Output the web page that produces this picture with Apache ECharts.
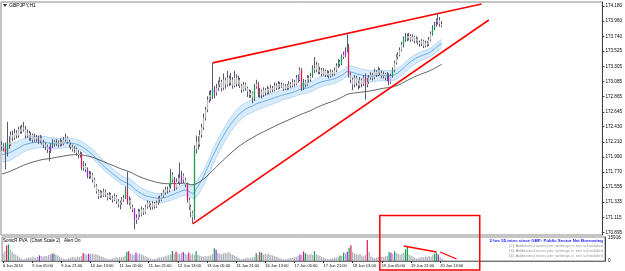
<!DOCTYPE html>
<html><head><meta charset="utf-8">
<script src="https://cdn.jsdelivr.net/npm/echarts@6/dist/echarts.min.js"></script>
<style>html,body{margin:0;padding:0;background:#fff}#c{width:625px;height:271px}</style>
</head><body><div id="c"></div><script>
// ---------------- data ----------------
const symbolTitle = 'GBPJPY,H1';
const indicatorTitle = 'SonicR PVA  (Chart Scale 2)   Alert On';
const newsLines = ['2 hrs 55 mins since GBP: Public Sector Net Borrowing',
  '(2) Additional news per settings is not scheduled',
  '(3) Additional news per settings is not scheduled',
  '(4) Additional news per settings is not scheduled'];
const timeLabels = ['6 Jun 2014','9 Jun 05:00','9 Jun 21:00','10 Jun 13:00','11 Jun 05:00','11 Jun 21:00',
  '12 Jun 13:00','13 Jun 05:00','13 Jun 21:00','16 Jun 13:00','17 Jun 05:00','17 Jun 21:00',
  '18 Jun 13:00','19 Jun 05:00','19 Jun 21:00','20 Jun 13:00'];
const barsPerLabel = 16;
const totalSlots = 331;
const priceTicks = [170.895,171.115,171.335,171.555,171.770,171.990,172.210,172.430,172.645,172.865,
  173.085,173.305,173.525,173.740,173.960,174.180];
const priceMin = 170.859, priceMax = 174.238;
const lastPrice = 173.895;
const volTicks = [0, 15916];
const volMax = 16700;

const opens = [
172.16,172.14,172.125,172.05,172.20,172.17,172.31,172.27,172.34,172.30,
172.39,172.36,172.42,172.39,172.30,172.34,172.27,172.31,172.24,172.28,
172.25,172.225,172.27,172.20,172.17,172.14,172.10,172.08,172.155,172.21,
172.18,172.20,172.17,172.21,172.18,172.24,172.27,172.21,172.17,172.14,
172.10,172.11,172.05,172.02,172.035,171.83,171.86,171.81,171.71,171.74,
171.735,171.66,171.575,171.49,171.42,171.475,171.43,171.49,171.445,171.40,
171.445,171.40,171.37,171.42,171.35,171.30,171.33,171.37,171.40,171.52,
171.33,171.37,171.27,171.23,171.08,171.11,171.20,171.155,171.23,171.185,
171.27,171.33,171.30,171.26,171.32,171.27,171.33,171.39,171.37,171.43,
171.475,171.52,171.505,171.56,171.735,171.66,171.545,171.635,171.69,171.62,
171.72,171.66,171.59,171.37,171.27,171.185,171.11,172.10,172.21,172.17,
172.31,172.42,172.56,172.675,172.82,172.89,172.86,172.97,172.92,172.99,
173.04,173.08,172.99,173.11,173.04,173.14,173.065,173.11,173.025,173.14,
173.05,173.11,173.025,172.965,173.04,172.99,172.94,172.89,172.92,172.85,
173.01,173.05,172.89,172.94,172.89,172.965,172.92,172.98,172.94,172.99,
172.965,173.025,172.99,173.05,173.01,173.04,172.98,173.025,172.99,173.05,
173.025,173.08,173.05,173.14,173.11,173.25,172.99,173.08,173.04,173.14,
173.11,173.165,173.28,173.25,173.33,173.225,173.25,173.195,173.24,173.18,
173.21,173.165,173.225,173.195,173.25,173.31,173.37,173.34,173.44,173.47,
173.54,173.60,173.18,173.11,173.04,173.14,173.065,173.025,173.11,173.05,
173.14,173.04,173.08,173.14,173.18,173.14,173.225,173.18,173.25,173.21,
173.165,173.195,173.14,173.18,173.08,173.165,173.25,173.355,173.44,173.47,
173.54,173.62,173.69,173.74,173.71,173.745,173.69,173.735,173.675,173.705,
173.66,173.63,173.675,173.60,173.645,173.62,173.69,173.775,173.86,173.905,
173.95,173.977,173.92];
const closes = [
172.14,172.125,172.05,172.20,172.17,172.31,172.27,172.34,172.30,172.39,
172.36,172.42,172.39,172.30,172.34,172.27,172.31,172.24,172.28,172.25,
172.225,172.27,172.20,172.17,172.14,172.10,172.08,172.155,172.21,172.18,
172.20,172.17,172.21,172.18,172.24,172.27,172.21,172.17,172.14,172.10,
172.11,172.05,172.02,172.035,171.83,171.86,171.81,171.71,171.74,171.735,
171.66,171.575,171.49,171.42,171.475,171.43,171.49,171.445,171.40,171.445,
171.40,171.37,171.42,171.35,171.30,171.33,171.37,171.40,171.52,171.33,
171.37,171.27,171.23,171.08,171.11,171.20,171.155,171.23,171.185,171.27,
171.33,171.30,171.26,171.32,171.27,171.33,171.39,171.37,171.43,171.475,
171.52,171.505,171.56,171.735,171.66,171.545,171.635,171.69,171.62,171.72,
171.66,171.59,171.37,171.27,171.185,171.11,172.10,172.21,172.17,172.31,
172.42,172.56,172.675,172.82,172.89,172.86,172.97,172.92,172.99,173.04,
173.08,172.99,173.11,173.04,173.14,173.065,173.11,173.025,173.14,173.05,
173.11,173.025,172.965,173.04,172.99,172.94,172.89,172.92,172.85,173.01,
173.05,172.89,172.94,172.89,172.965,172.92,172.98,172.94,172.99,172.965,
173.025,172.99,173.05,173.01,173.04,172.98,173.025,172.99,173.05,173.025,
173.08,173.05,173.14,173.11,173.25,172.99,173.08,173.04,173.14,173.11,
173.165,173.28,173.25,173.33,173.225,173.25,173.195,173.24,173.18,173.21,
173.165,173.225,173.195,173.25,173.31,173.37,173.34,173.44,173.47,173.54,
173.60,173.18,173.11,173.04,173.14,173.065,173.025,173.11,173.05,173.14,
173.04,173.08,173.14,173.18,173.14,173.225,173.18,173.25,173.21,173.165,
173.195,173.14,173.18,173.08,173.165,173.25,173.355,173.44,173.47,173.54,
173.62,173.69,173.74,173.71,173.745,173.69,173.735,173.675,173.705,173.66,
173.63,173.675,173.60,173.645,173.62,173.69,173.775,173.86,173.905,173.95,
173.977,173.92,173.895];
const highs = [
172.22,172.19,172.20,172.50,172.29,172.36,172.37,172.40,172.38,172.43,
172.44,172.46,172.50,172.44,172.39,172.37,172.35,172.33,172.33,172.31,
172.30,172.31,172.29,172.24,172.20,172.17,172.14,172.19,172.25,172.24,
172.25,172.23,172.26,172.24,172.28,172.33,172.29,172.24,172.20,172.17,
172.15,172.13,172.09,172.07,172.06,171.93,171.90,171.84,171.79,171.78,
171.76,171.69,171.60,171.52,171.51,171.50,171.53,171.52,171.47,171.48,
171.47,171.43,171.46,171.44,171.38,171.36,171.41,171.44,171.56,171.78,
171.42,171.39,171.30,171.25,171.16,171.24,171.23,171.27,171.25,171.30,
171.36,171.35,171.32,171.35,171.34,171.36,171.42,171.43,171.47,171.52,
171.56,171.56,171.60,171.82,171.77,171.70,171.68,171.74,171.91,171.79,
171.75,171.69,171.62,171.40,171.30,171.21,172.16,172.30,172.29,172.38,
172.47,172.62,172.72,172.87,172.95,172.96,173.355,173.02,173.05,173.10,
173.15,173.11,173.20,173.14,173.24,173.17,173.21,173.15,173.24,173.19,
173.17,173.14,173.05,173.08,173.07,173.01,172.97,172.96,172.94,173.05,
173.11,173.08,172.99,172.97,173.00,172.99,173.02,173.00,173.04,173.02,
173.07,173.06,173.09,173.08,173.07,173.06,173.05,173.05,173.09,173.08,
173.12,173.11,173.18,173.19,173.29,173.28,173.12,173.11,173.18,173.17,
173.21,173.32,173.44,173.37,173.35,173.30,173.28,173.28,173.26,173.25,
173.24,173.26,173.25,173.29,173.35,173.41,173.40,173.48,173.52,173.58,
173.79,173.63,173.22,173.14,173.18,173.17,173.10,173.15,173.13,173.18,
173.20,173.14,173.18,173.22,173.21,173.27,173.25,173.30,173.28,173.24,
173.23,173.21,173.22,173.20,173.20,173.29,173.39,173.48,173.51,173.58,
173.66,173.74,173.79,173.78,173.79,173.77,173.77,173.75,173.74,173.72,
173.68,173.70,173.69,173.68,173.67,173.73,173.81,173.90,173.95,174.00,
174.08,174.02,173.96];
const lows = [
172.08,172.07,171.81,172.00,172.11,172.15,172.22,172.24,172.26,172.27,
172.33,172.33,172.36,172.26,172.27,172.23,172.22,172.20,172.21,172.21,
172.18,172.19,172.17,172.12,172.09,172.05,171.93,172.05,172.12,172.14,
172.15,172.13,172.14,172.15,172.16,172.21,172.18,172.13,172.10,172.07,
172.05,172.01,171.97,171.98,171.80,171.79,171.77,171.68,171.67,171.68,
171.62,171.55,171.46,171.38,171.40,171.40,171.41,171.41,171.36,171.38,
171.37,171.33,171.35,171.31,171.26,171.23,171.30,171.34,171.38,171.30,
171.29,171.24,171.19,170.94,171.02,171.08,171.12,171.13,171.15,171.16,
171.24,171.26,171.22,171.23,171.24,171.25,171.30,171.33,171.35,171.40,
171.44,171.46,171.48,171.53,171.62,171.50,171.52,171.60,171.58,171.60,
171.61,171.55,171.33,171.22,171.12,171.03,171.08,172.04,172.10,172.14,
172.27,172.38,172.52,172.64,172.78,172.80,172.83,172.84,172.88,172.95,
173.00,172.94,172.96,172.98,173.01,173.02,173.03,172.98,173.00,173.01,
173.02,172.99,172.92,172.94,172.95,172.86,172.85,172.85,172.77,172.80,
172.98,172.86,172.85,172.84,172.86,172.88,172.90,172.90,172.92,172.93,
172.94,172.96,172.97,172.98,172.99,172.95,172.96,172.96,172.97,172.99,
173.00,173.01,173.03,173.07,173.09,172.95,172.96,173.00,173.02,173.07,
173.08,173.14,173.21,173.22,173.19,173.19,173.16,173.17,173.15,173.15,
173.13,173.14,173.16,173.17,173.22,173.28,173.30,173.32,173.41,173.44,
173.51,173.14,173.06,172.96,173.00,173.02,172.97,172.99,173.00,173.02,
172.82,173.00,173.05,173.11,173.10,173.12,173.15,173.16,173.18,173.13,
173.13,173.10,173.09,173.03,173.05,173.14,173.22,173.33,173.41,173.45,
173.52,173.58,173.66,173.67,173.68,173.66,173.67,173.64,173.65,173.62,
173.59,173.60,173.57,173.58,173.59,173.60,173.67,173.75,173.83,173.88,
173.91,173.88,173.87];
const volumes = [
5200,6800,10800,11500,7800,6500,5200,4300,3500,2600,
1800,1200,1600,2100,2500,2300,2900,2600,2200,2800,
3900,3400,3100,3600,3300,4200,4600,5100,5300,4400,
3800,3000,2200,1700,1300,1400,1900,2300,2900,2600,
2400,3100,2800,3500,5600,4800,4200,5000,4600,5200,
4400,4900,4100,3700,3200,2700,2100,1600,1200,1300,
1700,2000,2400,2200,2700,2500,3000,3600,6400,6800,
5200,4700,4400,5900,4800,5300,4500,4000,3300,2800,
2300,1700,1300,1400,1800,2200,2600,2400,2900,3300,
3800,4200,4600,6900,5200,6600,5400,4900,5600,6300,
5100,4600,6000,4300,5200,4000,6800,4500,3800,3300,
2900,3400,3100,3600,4000,4800,8900,7800,5600,5000,
4600,5300,5800,5500,6100,5200,4400,3900,3200,2400,
1600,1100,1500,1900,2200,2000,2500,2300,2800,5600,
4300,6200,5800,4500,5100,4700,5300,4200,3900,3400,
2900,2500,2000,1500,1100,1200,1600,2000,2300,2100,
2600,2900,3300,4600,4100,6600,5400,4800,4400,5000,
4200,6900,4700,4100,3600,3000,2500,1900,1400,1300,
1700,2000,2400,2200,2700,3900,3400,6000,5200,6400,
9200,11000,6500,5200,4800,4300,4900,3800,3300,4200,
14600,6500,3100,2600,2100,2400,2800,2500,3000,2700,
3200,3600,6300,5700,4800,6800,5400,5000,4400,5200,
5600,8100,9700,4600,3900,3100,2300,1600,2000,2400,
2900,2600,3200,2800,3500,3000,4200,5300,5800,4500,
2600,1800,900];
const greenBars  = [3,28,68,93,106,116,139,142,166,171,185,187,190,212,215,221,222,237,238];
const redBars    = [2,44,69,95,102,141,165,191,200];
const purpleBars = [20,27,47,73,99,117,163,189,213,239];
// moving-average starting levels (read at the left edge)
const dragonSeedHigh = 172.125, dragonSeedClose = 172.02, dragonSeedLow = 171.91, trendSeed = 171.735;
const dragonPeriod = 34, trendPeriod = 89;
// hand-drawn annotations (bar index, value)
const upperTrend = [[116,173.355],[264,174.21]];
const lowerTrend = [[105,171.02],[268,173.977]];
const volTrend1 = [[220,10440],[238,6260]];
const volTrend2 = [[240,6260],[249,1390]];
const boxLeftBar = 208, boxRightBar = 263, boxTopPrice = 171.14;

// ---------------- build ----------------
const GREEN='#12a04a', RED='#e2165a', PURPLE='#a21fe8', GRAY='#b9b9b9', WICK='#585870', VGRAY='#a9adb6';
function barColor(i, base){
  if (greenBars.includes(i)) return GREEN;
  if (redBars.includes(i)) return RED;
  if (purpleBars.includes(i)) return PURPLE;
  return base;
}
function ema(src, n, seed){ const k=2/(n+1); let e=seed; return src.map(v=>{ e=e+k*(v-e); return +e.toFixed(4); }); }
const emaHigh = ema(highs, dragonPeriod, dragonSeedHigh);
const emaLow = ema(lows, dragonPeriod, dragonSeedLow);
const emaClose = ema(closes, dragonPeriod, dragonSeedClose);
const emaTrend = ema(closes, trendPeriod, trendSeed);
const bandSpan = emaHigh.map((h,i)=>+(h-emaLow[i]).toFixed(4));

const cats = []; for (let i=0;i<totalSlots;i++) cats.push(String(i));
const candleData = opens.map((o,i)=>[i,o,closes[i],lows[i],highs[i]]);
const volData = volumes.map((v,i)=>({value:v, itemStyle:{color:barColor(i,VGRAY)}}));

const FONT = 'Liberation Sans';
const chart = echarts.init(document.getElementById('c'), null, {renderer:'canvas'});
const option = {
  animation:false,
  backgroundColor:'#ffffff',
  grid:[
    {left:1, right:20, top:2, height:233, show:true, borderColor:'#8a8a8a', borderWidth:1, backgroundColor:'transparent'},
    {left:1, right:20, top:237, height:24, show:true, borderColor:'#8a8a8a', borderWidth:1, backgroundColor:'transparent'}
  ],
  xAxis:[
    {type:'category', gridIndex:0, data:cats, boundaryGap:true, axisLine:{show:false}, axisTick:{show:false}, axisLabel:{show:false}, splitLine:{show:false}},
    {type:'category', gridIndex:1, data:cats, boundaryGap:true,
      axisLine:{show:true, lineStyle:{color:'#707070', width:1}},
      axisTick:{show:true, alignWithLabel:true, length:2, lineStyle:{color:'#333'},
        interval:(idx)=> idx % barsPerLabel === 0 && idx/barsPerLabel < timeLabels.length},
      axisLabel:{show:true, interval:barsPerLabel-1, align:'left', margin:3, fontSize:4, fontFamily:FONT, color:'#000',
        formatter:(v, idx)=> (idx % barsPerLabel === 0 && idx/barsPerLabel < timeLabels.length) ? timeLabels[idx/barsPerLabel] : ''},
      splitLine:{show:false}}
  ],
  yAxis:[
    {type:'value', gridIndex:0, position:'right', min:priceMin, max:priceMax, scale:true,
      axisLine:{show:true, lineStyle:{color:'#404040', width:1}},
      axisTick:{show:true, length:2, customValues:priceTicks, lineStyle:{color:'#333'}},
      axisLabel:{show:true, customValues:priceTicks, formatter:(v)=>v.toFixed(3), fontSize:4.6, fontFamily:FONT, color:'#000', margin:3},
      splitLine:{show:false}},
    {type:'value', gridIndex:1, position:'right', min:0, max:volMax,
      axisLine:{show:true, lineStyle:{color:'#404040', width:1}},
      axisTick:{show:false},
      axisLabel:{show:true, customValues:volTicks, formatter:(v)=>String(v), fontSize:4.6, fontFamily:FONT, color:'#000', margin:3},
      splitLine:{show:false}}
  ],
  series:[
    {name:'dragonLow', type:'line', xAxisIndex:0, yAxisIndex:0, data:emaLow, stack:'dragon', symbol:'none', silent:true,
      lineStyle:{color:'#a9d1f2', width:0.8}, z:2},
    {name:'dragonBand', type:'line', xAxisIndex:0, yAxisIndex:0, data:bandSpan, stack:'dragon', symbol:'none', silent:true,
      lineStyle:{color:'#a9d1f2', width:0.8}, areaStyle:{color:'#d8ebfb', opacity:1}, z:2},
    {name:'dragonMid', type:'line', xAxisIndex:0, yAxisIndex:0, data:emaClose, symbol:'none', silent:true,
      lineStyle:{color:'#4a9de6', width:0.8}, z:3},
    {name:'trend', type:'line', xAxisIndex:0, yAxisIndex:0, data:emaTrend, symbol:'none', silent:true,
      lineStyle:{color:'#3c3c3c', width:0.8}, z:3,
      markLine:{silent:true, symbol:'none', animation:false,
        data:[
          {yAxis:lastPrice, lineStyle:{opacity:0},
            label:{show:true, position:'end', distance:2, formatter:lastPrice.toFixed(3), backgroundColor:'#000', color:'#fff',
              fontSize:4.6, fontFamily:FONT, padding:[1,2,0,1]}},
          [{coord:upperTrend[0], lineStyle:{color:'#ff0000', width:1.6, type:'solid'}, label:{show:false}}, {coord:upperTrend[1]}],
          [{coord:lowerTrend[0], lineStyle:{color:'#ff0000', width:1.6, type:'solid'}, label:{show:false}}, {coord:lowerTrend[1]}]
        ]}},
    {name:'candles', type:'custom', xAxisIndex:0, yAxisIndex:0, data:candleData, z:5,
      encode:{x:0, y:[1,2,3,4]},
      renderItem:function(params, api){
        const x=api.value(0), o=api.value(1), c=api.value(2), l=api.value(3), h=api.value(4);
        const pO=api.coord([x,o]), pC=api.coord([x,c]), pL=api.coord([x,l]), pH=api.coord([x,h]);
        const bw=Math.max(api.size([1,0])[0]*0.7,1);
        const xc=Math.floor(pO[0])+0.5;
        const top=Math.min(pO[1],pC[1]), bot=Math.max(pO[1],pC[1]);
        const col=barColor(params.dataIndex, GRAY);
        return {type:'group', children:[
          {type:'line', shape:{x1:xc,y1:pH[1],x2:xc,y2:pL[1]}, style:{stroke:WICK, lineWidth:1}},
          {type:'rect', shape:{x:xc-bw/2, y:top, width:bw, height:Math.max(bot-top,1)}, style:{fill:col}}
        ]};
      }},
    {name:'pva', type:'bar', xAxisIndex:1, yAxisIndex:1, data:volData, barWidth:1.2, silent:true, z:3,
      markLine:{silent:true, symbol:'none', animation:false,
        data:[
          [{coord:volTrend1[0], lineStyle:{color:'#ff0000', width:1.3, type:'solid'}, label:{show:false}}, {coord:volTrend1[1]}],
          [{coord:volTrend2[0], lineStyle:{color:'#ff0000', width:1.3, type:'solid'}, label:{show:false}}, {coord:volTrend2[1]}]
        ]}}
  ]
};
chart.setOption(option);

// annotations that need pixel positions from the axes
const pA = chart.convertToPixel({xAxisIndex:0, yAxisIndex:0}, [boxLeftBar, boxTopPrice]);
const pB = chart.convertToPixel({xAxisIndex:0, yAxisIndex:0}, [boxRightBar, boxTopPrice]);
const H = chart.getHeight();
chart.setOption({graphic:[
  {type:'polygon', id:'tri', shape:{points:[[3,4],[7,4],[5,7]]}, style:{fill:'#333'}, z:20},
  {type:'text', id:'sym', left:9, top:3, style:{text:symbolTitle, fontSize:5, fontFamily:FONT, fill:'#000'}, z:20},
  {type:'text', id:'ind', left:3, top:238.5, style:{text:indicatorTitle, fontSize:4.5, fontFamily:FONT, fill:'#000'}, z:20},
  {type:'text', id:'n0', right:22, top:239, style:{text:newsLines[0], fontSize:4.4, fontFamily:FONT, fill:'#1a1aff', fontWeight:'bold'}, z:20},
  {type:'text', id:'n1', right:22, top:244, style:{text:newsLines[1], fontSize:4.4, fontFamily:FONT, fill:'#9a9a9a'}, z:20},
  {type:'text', id:'n2', right:22, top:249, style:{text:newsLines[2], fontSize:4.4, fontFamily:FONT, fill:'#9a9a9a'}, z:20},
  {type:'text', id:'n3', right:22, top:254, style:{text:newsLines[3], fontSize:4.4, fontFamily:FONT, fill:'#9a9a9a'}, z:20},
  {type:'rect', id:'box', shape:{x:pA[0], y:pA[1], width:pB[0]-pA[0], height:H-1-pA[1]},
    style:{fill:'none', stroke:'#ff0000', lineWidth:1.5}, z:30}
]});
</script></body></html>
